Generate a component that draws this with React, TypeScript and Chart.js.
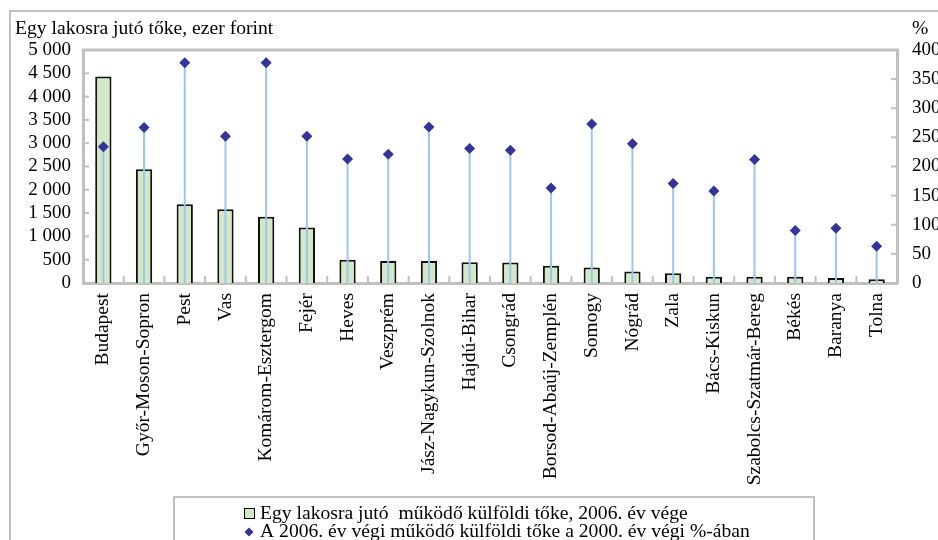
import React, { useEffect, useRef } from "react";
import { Chart, registerables } from "chart.js";

Chart.register(...registerables);

const categories = [
  "Budapest",
  "Győr-Moson-Sopron",
  "Pest",
  "Vas",
  "Komárom-Esztergom",
  "Fejér",
  "Heves",
  "Veszprém",
  "Jász-Nagykun-Szolnok",
  "Hajdú-Bihar",
  "Csongrád",
  "Borsod-Abaúj-Zemplén",
  "Somogy",
  "Nógrád",
  "Zala",
  "Bács-Kiskun",
  "Szabolcs-Szatmár-Bereg",
  "Békés",
  "Baranya",
  "Tolna",
];

const capitalPerCapita = [4430, 2440, 1690, 1580, 1420, 1190, 500, 470, 470, 445, 440, 370, 335, 245, 210, 135, 135, 135, 105, 80];
const pctOf2000 = [234, 267, 378, 252, 378, 252, 213, 221, 268, 231, 228, 163, 273, 239, 171, 158, 212, 90, 94, 63];

const leftTicksMax = 5000;
const leftTicksStep = 500;
const rightTicksMax = 400;
const rightTicksStep = 50;

const titleText = "Egy lakosra jutó tőke, ezer forint";
const rightUnit = "%";
const legendBarText = "Egy lakosra jutó  működő külföldi tőke, 2006. év vége";
const legendPointText = "A 2006. év végi működő külföldi tőke a 2000. év végi %-ában";

const FONT = "'Liberation Serif', 'Times New Roman', serif";
const GRAY = "#c0c0c0";
const BAR_FILL = "#d4e8c8";
const MARKER = "#333399";
const DROP = "#9dc6ea";
const TEXT_STRETCH = 1.09;

function fmtThousands(v: number): string {
  const n = Math.round(v);
  if (n < 1000) return String(n);
  const th = Math.floor(n / 1000);
  const rest = String(n % 1000).padStart(3, "0");
  return th + " " + rest;
}

function stretchedText(ctx: CanvasRenderingContext2D, text: string, x: number, y: number) {
  ctx.save();
  ctx.translate(x, y);
  ctx.scale(TEXT_STRETCH, 1);
  ctx.fillText(text, 0, 0);
  ctx.restore();
}

const framePlugin = {
  id: "frame",
  beforeDraw(chart: any) {
    const ctx = chart.ctx;
    ctx.save();
    ctx.fillStyle = "#ffffff";
    ctx.fillRect(0, 0, chart.width, chart.height);
    ctx.strokeStyle = GRAY;
    ctx.lineWidth = 2;
    ctx.strokeRect(10, 11, chart.width + 20, chart.height + 20);
    ctx.fillStyle = "#000";
    ctx.font = "18px " + FONT;
    ctx.textBaseline = "alphabetic";
    ctx.textAlign = "left";
    stretchedText(ctx, titleText, 15, 34);
    stretchedText(ctx, rightUnit, 912, 34);
    ctx.restore();
  },
  beforeDatasetDraw(chart: any, args: any) {
    if (args.index !== 1) return;
    const ctx = chart.ctx;
    const meta = chart.getDatasetMeta(1);
    const y0 = chart.scales.y1.getPixelForValue(0);
    ctx.save();
    ctx.strokeStyle = DROP;
    ctx.lineWidth = 2;
    meta.data.forEach((pt: any) => {
      ctx.beginPath();
      ctx.moveTo(pt.x, pt.y);
      ctx.lineTo(pt.x, y0);
      ctx.stroke();
    });
    ctx.restore();
  },
  afterDraw(chart: any) {
    const ctx = chart.ctx;
    const { left, right, top, bottom } = chart.chartArea;
    ctx.save();
    ctx.strokeStyle = GRAY;
    ctx.lineWidth = 3;
    ctx.beginPath();
    ctx.moveTo(left - 1.5, top);
    ctx.lineTo(right + 1.5, top);
    ctx.stroke();
    ctx.lineWidth = 2;
    const y = chart.scales.y;
    y.ticks.forEach((t: any) => {
      const py = y.getPixelForValue(t.value);
      ctx.beginPath();
      ctx.moveTo(left, py);
      ctx.lineTo(left + 6, py);
      ctx.stroke();
    });
    const y1 = chart.scales.y1;
    y1.ticks.forEach((t: any) => {
      const py = y1.getPixelForValue(t.value);
      ctx.beginPath();
      ctx.moveTo(right, py);
      ctx.lineTo(right - 6, py);
      ctx.stroke();
    });
    const x = chart.scales.x;
    for (let i = 0; i < categories.length - 1; i++) {
      const px = (x.getPixelForTick(i) + x.getPixelForTick(i + 1)) / 2;
      ctx.beginPath();
      ctx.moveTo(px, bottom);
      ctx.lineTo(px, bottom - 7);
      ctx.stroke();
    }
    const lx = 174, ly = 497;
    ctx.fillStyle = "#fff";
    ctx.fillRect(lx, ly, 640, 60);
    ctx.strokeStyle = GRAY;
    ctx.lineWidth = 2;
    ctx.strokeRect(lx, ly, 640, 60);
    ctx.fillStyle = BAR_FILL;
    ctx.fillRect(244, 508, 10, 10);
    ctx.strokeStyle = "#000";
    ctx.lineWidth = 1;
    ctx.strokeRect(244.5, 508.5, 10, 10);
    ctx.fillStyle = MARKER;
    ctx.beginPath();
    ctx.moveTo(249, 527.5);
    ctx.lineTo(253.5, 532);
    ctx.lineTo(249, 536.5);
    ctx.lineTo(244.5, 532);
    ctx.closePath();
    ctx.fill();
    ctx.fillStyle = "#000";
    ctx.font = "18px " + FONT;
    ctx.textAlign = "left";
    ctx.textBaseline = "alphabetic";
    stretchedText(ctx, legendBarText, 260, 519);
    stretchedText(ctx, legendPointText, 260, 537);
    ctx.restore();
  },
};

export default function App() {
  const ref = useRef<HTMLCanvasElement | null>(null);

  useEffect(() => {
    if (!ref.current) return;
    const chart = new Chart(ref.current, {
      type: "bar",
      data: {
        labels: categories,
        datasets: [
          {
            type: "bar",
            label: legendBarText,
            data: capitalPerCapita,
            backgroundColor: BAR_FILL,
            borderColor: "#111111",
            borderWidth: 2,
            barPercentage: 0.4,
            categoryPercentage: 1,
            yAxisID: "y",
            order: 2,
          },
          {
            type: "line",
            label: legendPointText,
            data: pctOf2000,
            showLine: false,
            pointStyle: "rectRot",
            pointRadius: 5.5,
            pointBackgroundColor: MARKER,
            pointBorderColor: MARKER,
            pointBorderWidth: 0,
            yAxisID: "y1",
            order: 1,
          },
        ],
      },
      options: {
        responsive: false,
        animation: false,
        devicePixelRatio: 1,
        layout: { padding: { top: 50, left: 0, right: 0, bottom: 0 } },
        plugins: {
          legend: { display: false },
          tooltip: { enabled: false },
          title: { display: false },
        },
        scales: {
          x: {
            grid: { display: false, drawTicks: false },
            border: { display: true, color: GRAY, width: 3 },
            ticks: {
              autoSkip: false,
              minRotation: 90,
              maxRotation: 90,
              padding: 10,
              color: "#000",
              font: { family: FONT, size: 19.5 },
            },
            afterFit(scale: any) {
              scale.height = 540 - 283;
            },
          },
          y: {
            position: "left",
            min: 0,
            max: leftTicksMax,
            grid: { display: false, drawTicks: false },
            border: { display: true, color: GRAY, width: 3 },
            ticks: {
              stepSize: leftTicksStep,
              autoSkip: false,
              padding: 12,
              color: "#000",
              font: { family: FONT, size: 19 },
              callback: (v: any) => fmtThousands(Number(v)),
            },
            afterFit(scale: any) {
              scale.width = 83;
            },
          },
          y1: {
            position: "right",
            min: 0,
            max: rightTicksMax,
            grid: { display: false, drawTicks: false, drawOnChartArea: false },
            border: { display: true, color: GRAY, width: 3 },
            ticks: {
              stepSize: rightTicksStep,
              autoSkip: false,
              padding: 15,
              color: "#000",
              font: { family: FONT, size: 19 },
            },
            afterFit(scale: any) {
              scale.width = 938 - 897;
            },
          },
        },
      } as any,
      plugins: [framePlugin],
    });
    return () => chart.destroy();
  }, []);

  return (
    <div style={{ position: "fixed", left: 0, top: 0, width: 938, height: 540, background: "#fff" }}>
      <canvas ref={ref} width={938} height={540} style={{ width: 938, height: 540, display: "block" }} />
    </div>
  );
}
